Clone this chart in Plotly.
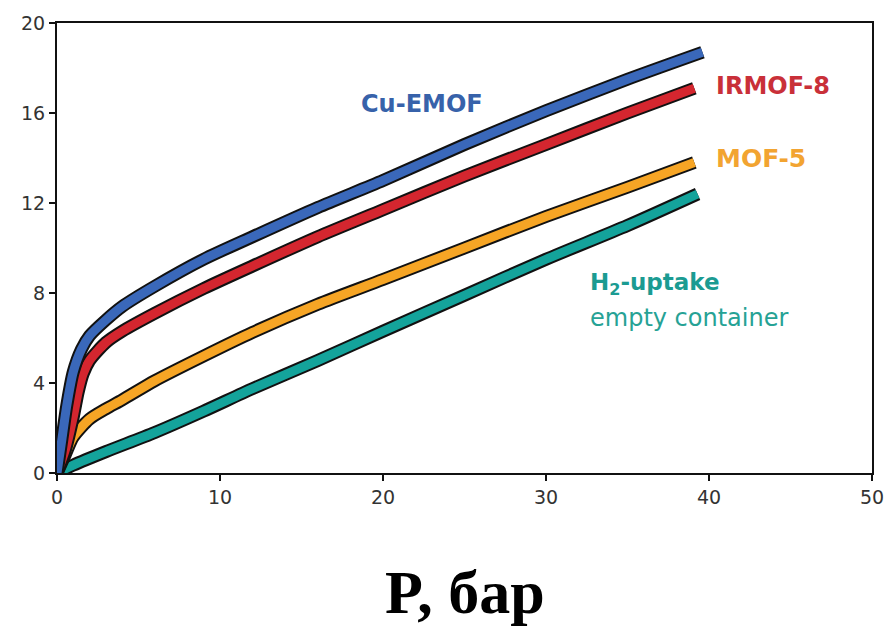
import plotly.graph_objects as go

# Hydrogen uptake isotherms vs pressure
cu_emof_p = [0, 0.3, 0.6, 1.0, 1.5, 2, 3, 4, 6, 9, 12, 16, 20, 25, 30, 35, 39.6]
cu_emof_q = [0, 1.5, 3.0, 4.5, 5.5, 6.1, 6.8, 7.4, 8.3, 9.5, 10.5, 11.8, 13.0, 14.6, 16.1, 17.5, 18.7]

irmof8_p = [0, 0.5, 1.0, 1.3, 1.6, 2, 3, 4, 6, 9, 12, 16, 20, 25, 30, 35, 39.1]
irmof8_q = [0, 1.0, 2.5, 3.6, 4.4, 5.0, 5.8, 6.3, 7.1, 8.2, 9.2, 10.5, 11.7, 13.2, 14.6, 16.0, 17.1]

mof5_p = [0, 0.5, 1, 2, 3, 4, 6, 9, 12, 16, 20, 25, 30, 35, 39.1]
mof5_q = [0, 0.8, 1.6, 2.4, 2.85, 3.25, 4.1, 5.2, 6.25, 7.5, 8.6, 10.0, 11.4, 12.7, 13.8]

empty_p = [0, 1, 3, 6, 9, 12, 16, 20, 25, 30, 35, 39.3]
empty_q = [0, 0.35, 0.95, 1.8, 2.75, 3.75, 5.0, 6.3, 7.9, 9.5, 11.0, 12.4]

x_ticks = [0, 10, 20, 30, 40, 50]
y_ticks = [0, 4, 8, 12, 16, 20]

series = [
    (empty_p, empty_q, "#14a39b"),
    (mof5_p, mof5_q, "#f6a525"),
    (irmof8_p, irmof8_q, "#d4262f"),
    (cu_emof_p, cu_emof_q, "#3a68ba"),
]

fig = go.Figure()
for p, q, color in series:
    # dark outline under each coloured curve
    fig.add_trace(go.Scatter(x=p, y=q, mode="lines",
                             line=dict(color="#111111", width=13, shape="spline", smoothing=0.7),
                             hoverinfo="skip", cliponaxis=False))
    fig.add_trace(go.Scatter(x=p, y=q, mode="lines",
                             line=dict(color=color, width=9, shape="spline", smoothing=0.7),
                             cliponaxis=False))

label_font = "DejaVu Sans"
annotations = [
    dict(x=18.5, y=16.4, text="<b>Cu-EMOF</b>", color="#3762aa", size=24),
    dict(x=40.3, y=17.2, text="<b>IRMOF-8</b>", color="#c93039", size=24),
    dict(x=40.3, y=14.0, text="<b>MOF-5</b>", color="#f2a431", size=25),
    dict(x=32.6, y=8.4, text="<b>H<sub>2</sub>-uptake</b>", color="#1b9b92", size=23),
    dict(x=32.6, y=6.9, text="empty container", color="#26a295", size=24),
]
for a in annotations:
    fig.add_annotation(x=a["x"], y=a["y"], xref="x", yref="y", text=a["text"],
                       showarrow=False, xanchor="left", yanchor="middle",
                       font=dict(family=label_font, size=a["size"], color=a["color"]))

fig.add_annotation(x=0.5, y=-0.265, xref="paper", yref="paper", text="<b>P, бар</b>",
                   showarrow=False, xanchor="center", yanchor="middle",
                   font=dict(family="Liberation Serif", size=62, color="#000000"))

axis_common = dict(showline=True, linecolor="#111111", linewidth=2, mirror=True,
                   ticks="outside", ticklen=6, tickwidth=1.5, tickcolor="#111111",
                   showgrid=False, zeroline=False,
                   tickfont=dict(family="DejaVu Sans", size=19, color="#333333"))

fig.update_xaxes(range=[0, 50], tickvals=x_ticks, **axis_common)
fig.update_yaxes(range=[0, 20], tickvals=y_ticks, **axis_common)

fig.update_layout(
    width=896, height=627,
    margin=dict(l=57, r=20, t=23, b=154),
    paper_bgcolor="white", plot_bgcolor="white",
    showlegend=False,
)

fig.write_html("out.html")
